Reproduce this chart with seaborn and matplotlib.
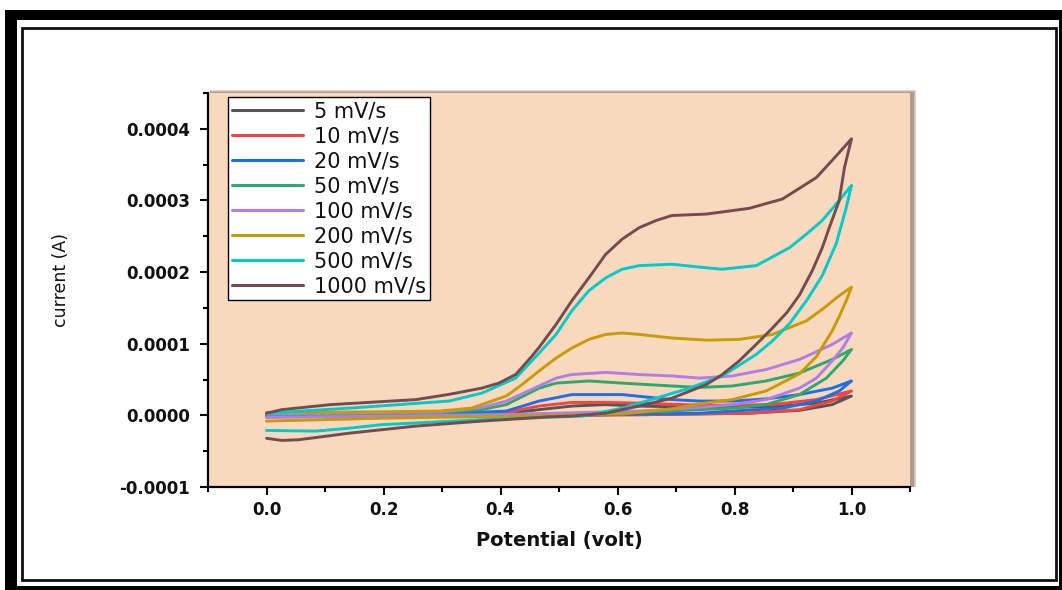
import numpy as np
import pandas as pd
import matplotlib
matplotlib.use("Agg")
import matplotlib.pyplot as plt
import matplotlib.ticker as mticker
from matplotlib.patches import Rectangle
import seaborn as sns

# ---------------- data (potential in V, current in µA) ----------------
rates = ["5 mV/s", "10 mV/s", "20 mV/s", "50 mV/s", "100 mV/s", "200 mV/s", "500 mV/s", "1000 mV/s"]
colors = ["#555555", "#F04545", "#1E6FE3", "#2EA86C", "#B27EE6", "#C99A05", "#00C9CB", "#754B4F"]

v_5 = [0.0, 0.3, 0.4, 0.466, 0.522, 0.58, 0.637, 0.752, 0.865, 0.94, 1.0,
       0.967, 0.911, 0.825, 0.65, 0.3, 0.0]
i_5 = [0, 1, 2, 8, 13, 15, 13, 11, 12, 17, 27,
       15, 7, 3, 1, -1, -1]

v_10 = [0.0, 0.3, 0.41, 0.466, 0.522, 0.58, 0.637, 0.752, 0.865, 0.94, 1.0,
        0.967, 0.911, 0.825, 0.65, 0.3, 0.0]
i_10 = [0, 1, 4, 13, 18, 18, 17, 14, 15, 22, 34,
        20, 8, 3, 1, 0, -1]

v_20 = [0.0, 0.3, 0.41, 0.466, 0.522, 0.608, 0.693, 0.74, 0.8, 0.854, 0.911, 0.967, 1.0,
        0.979, 0.94, 0.882, 0.796, 0.74, 0.5, 0.0]
i_20 = [1, 2, 6, 20, 29, 29, 22, 20, 20, 23, 29, 38, 48,
        34, 20, 10, 6, 3, 0, -1]

v_50 = [0.0, 0.3, 0.368, 0.41, 0.466, 0.495, 0.551, 0.608, 0.693, 0.74, 0.796, 0.854, 0.911, 0.967, 1.0,
        0.985, 0.957, 0.911, 0.854, 0.796, 0.74, 0.6, 0.3, 0.0]
i_50 = [2, 4, 8, 15, 38, 45, 48, 45, 41, 39, 41, 48, 59, 78, 92,
        76, 52, 29, 15, 10, 8, 3, 0, -2]

v_100 = [0.0, 0.3, 0.368, 0.41, 0.466, 0.495, 0.522, 0.58, 0.637, 0.693, 0.74, 0.796, 0.854, 0.911, 0.967, 1.0,
         0.985, 0.967, 0.94, 0.911, 0.854, 0.796, 0.74, 0.637, 0.4, 0.0]
i_100 = [2, 5, 11, 20, 41, 52, 57, 60, 57, 55, 52, 55, 64, 78, 99, 115,
         94, 76, 52, 38, 22, 15, 11, 6, 1, -3]

v_200 = [0.0, 0.2, 0.295, 0.35, 0.41, 0.437, 0.466, 0.495, 0.522, 0.551, 0.58, 0.608, 0.637, 0.693, 0.752,
         0.808, 0.865, 0.923, 0.95, 0.979, 1.0,
         0.991, 0.979, 0.967, 0.94, 0.911, 0.854, 0.796, 0.74, 0.693, 0.608, 0.427, 0.197, 0.0]
i_200 = [4, 5, 6, 10, 27, 43, 62, 80, 94, 106, 113, 115, 113, 108, 105,
         106, 113, 132, 148, 167, 179,
         160, 138, 118, 82, 58, 34, 22, 16, 9, 2, -1, -4, -8]

v_500 = [0.0, 0.14, 0.312, 0.368, 0.426, 0.466, 0.495, 0.522, 0.551, 0.58, 0.608, 0.637, 0.693, 0.752, 0.779,
         0.837, 0.894, 0.923, 0.95, 0.979, 1.0,
         0.991, 0.974, 0.95, 0.923, 0.894, 0.865, 0.837, 0.779, 0.723, 0.666, 0.608, 0.54, 0.368, 0.197,
         0.14, 0.084, 0.0]
i_500 = [3, 10, 20, 31, 52, 87, 113, 146, 174, 192, 204, 209, 211, 206, 204,
         209, 234, 253, 272, 300, 321,
         290, 240, 195, 160, 128, 104, 85, 55, 38, 24, 10, -1, -6, -13,
         -18, -22, -21]

v_1000 = [0.0, 0.026, 0.11, 0.255, 0.31, 0.368, 0.397, 0.426, 0.454, 0.466, 0.495, 0.522, 0.551, 0.58, 0.608,
          0.637, 0.666, 0.693, 0.752, 0.825, 0.882, 0.94, 0.967, 1.0,
          0.988, 0.979, 0.962, 0.95, 0.933, 0.911, 0.89, 0.865, 0.837, 0.808, 0.779, 0.752, 0.693, 0.637, 0.58,
          0.522, 0.483, 0.368, 0.255, 0.14, 0.084, 0.055, 0.026, 0.0]
i_1000 = [3, 8, 15, 22, 29, 38, 45, 57, 83, 95, 127, 160, 192, 225, 246,
          262, 272, 279, 281, 289, 302, 332, 356, 386,
          346, 300, 262, 234, 202, 168, 144, 122, 99, 76, 57, 43, 24, 13, 3,
          -1, -2, -8, -15, -25, -31, -34, -35, -32]

series_v = [v_5, v_10, v_20, v_50, v_100, v_200, v_500, v_1000]
series_i = [i_5, i_10, i_20, i_50, i_100, i_200, i_500, i_1000]

frames = []
for lab, vv, ii in zip(rates, series_v, series_i):
    frames.append(pd.DataFrame({"Potential": vv,
                                "Current": np.array(ii, dtype=float) * 1e-6,
                                "Rate": lab}))
df = pd.concat(frames, ignore_index=True)

# ---------------- figure ----------------
sns.set_theme(style="ticks")
plt.rcParams["font.family"] = ["DejaVu Sans"]

W, H = 1062, 590
fig = plt.figure(figsize=(W / 100, H / 100), dpi=100)
fig.patch.set_facecolor("white")


def fx(px):
    return px / W


def fy(py):
    return 1 - py / H


# outer black frame
for (x0, y0, x1, y1) in [(5, 10, 1062, 20), (5, 10, 17, 590), (1059, 10, 1062, 590), (5, 586, 1062, 590)]:
    fig.add_artist(Rectangle((fx(x0), fy(y1)), fx(x1 - x0), (y1 - y0) / H,
                             transform=fig.transFigure, facecolor="black", edgecolor="none", zorder=0))
# inner thin frame
fig.add_artist(Rectangle((fx(22), fy(580)), fx(1056 - 22), (580 - 28) / H,
                         transform=fig.transFigure, facecolor="none", edgecolor="#111111",
                         linewidth=2.0, zorder=0))

ax_l, ax_r, ax_t, ax_b = 208, 910, 93, 487
# soft drop shadow behind axes
for off, col in [(4, "#e2d2c4"), (3, "#cbb8a8"), (2, "#ad9c8f")]:
    fig.add_artist(Rectangle((fx(ax_l + 2), fy(ax_b)), fx(ax_r - ax_l + off), (ax_b - ax_t + off - 1) / H,
                             transform=fig.transFigure, facecolor=col, edgecolor="none", zorder=0.5))
ax = fig.add_axes([fx(ax_l), fy(ax_b), fx(ax_r - ax_l), (ax_b - ax_t) / H])
ax.set_facecolor("#F9D9BD")
ax.set_zorder(1)

sns.lineplot(data=df, x="Potential", y="Current", hue="Rate", hue_order=rates,
             palette=colors, sort=False, estimator=None, linewidth=2.1, ax=ax)
for ln in ax.get_lines():
    ln.set_solid_joinstyle("round")
    ln.set_solid_capstyle("round")

ax.set_xlim(-0.1, 1.1)
ax.set_ylim(-0.0001, 0.00045)
ax.xaxis.set_major_locator(mticker.FixedLocator([0.0, 0.2, 0.4, 0.6, 0.8, 1.0]))
ax.xaxis.set_minor_locator(mticker.FixedLocator([-0.1, 0.1, 0.3, 0.5, 0.7, 0.9, 1.1]))
ax.xaxis.set_major_formatter(mticker.FormatStrFormatter("%.1f"))
ax.yaxis.set_major_locator(mticker.FixedLocator([-0.0001, 0.0, 0.0001, 0.0002, 0.0003, 0.0004]))
ax.yaxis.set_minor_locator(mticker.FixedLocator([-0.00005, 0.00005, 0.00015, 0.00025, 0.00035, 0.00045]))
ax.yaxis.set_major_formatter(mticker.FormatStrFormatter("%.4f"))

for s in ["top", "right"]:
    ax.spines[s].set_visible(False)
for s in ["left", "bottom"]:
    ax.spines[s].set_linewidth(1.6)
    ax.spines[s].set_color("black")

ax.tick_params(axis="both", which="major", direction="out", length=6, width=1.5, color="black")
ax.tick_params(axis="both", which="minor", direction="out", length=3.5, width=1.5, color="black")
ax.tick_params(axis="y", which="major", pad=7)
ax.tick_params(axis="x", which="major", pad=4)
for lab in ax.get_xticklabels() + ax.get_yticklabels():
    lab.set_fontweight("bold")
    lab.set_fontsize(12)
    lab.set_color("#111111")

ax.set_xlabel("Potential (volt)", fontsize=14, fontweight="bold", color="#111111", labelpad=9)
ax.set_ylabel("current (A)", fontsize=12.5, color="#111111")
ax.yaxis.set_label_coords((70 - ax_l) / (ax_r - ax_l), (ax_b - 280) / (ax_b - ax_t))

handles, labels = ax.get_legend_handles_labels()
leg = ax.legend(handles, labels, loc="upper left", bbox_to_anchor=(0.028, 0.99),
                borderaxespad=0, frameon=True, fancybox=False, framealpha=1,
                edgecolor="black", facecolor="white", fontsize=15,
                handlelength=3.4, handletextpad=0.55, labelspacing=0.24,
                borderpad=0.2)
leg.get_frame().set_linewidth(1.0)
for t in leg.get_texts():
    t.set_color("#111111")
for ln in leg.get_lines():
    ln.set_linewidth(2.2)

fig.savefig("out.png", dpi=100)
